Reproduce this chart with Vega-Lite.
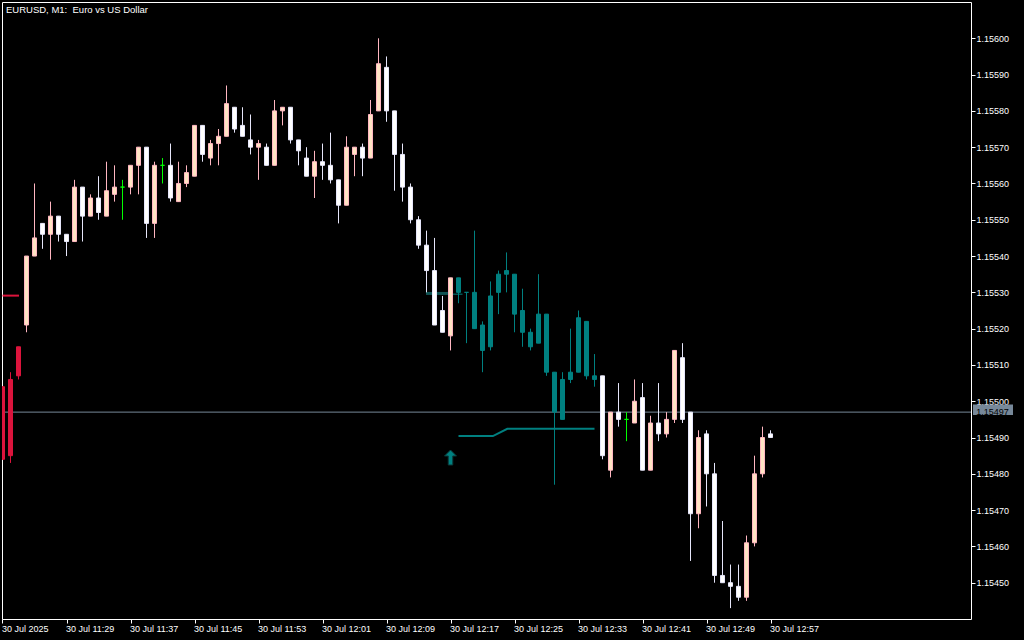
{
 "$schema": "https://vega.github.io/schema/vega-lite/v6.json",
 "width": 969,
 "height": 617,
 "autosize": {"type": "none"},
 "padding": {"left": 2, "top": 2, "right": 53, "bottom": 21},
 "background": "#000000",
 "config": {
  "view": {"stroke": "#FFFFFF", "strokeWidth": 1, "fill": "#000000"},
  "axis": {"labelFont": "Liberation Sans", "labelFontSize": 9, "labelColor": "#FFFFFF", "tickColor": "#FFFFFF", "tickSize": 4, "domain": false, "grid": false, "labelPadding": 1},
  "legend": {"disable": true}
 },
 "datasets": {
  "candles": [
   {"t":"2025-07-30T11:21:00Z","open":1.15504,"high":1.15504,"low":1.15484,"close":1.15484,"state":"red"},
   {"t":"2025-07-30T11:22:00Z","open":1.15485,"high":1.15508,"low":1.15483,"close":1.15506,"state":"red"},
   {"t":"2025-07-30T11:23:00Z","open":1.15507,"high":1.15515,"low":1.15506,"close":1.15515,"state":"red"},
   {"t":"2025-07-30T11:24:00Z","open":1.15521,"high":1.15540,"low":1.15519,"close":1.15540,"state":"up"},
   {"t":"2025-07-30T11:25:00Z","open":1.15540,"high":1.15560,"low":1.15540,"close":1.15545,"state":"up"},
   {"t":"2025-07-30T11:26:00Z","open":1.15549,"high":1.15549,"low":1.15542,"close":1.15546,"state":"down"},
   {"t":"2025-07-30T11:27:00Z","open":1.15546,"high":1.15555,"low":1.15539,"close":1.15551,"state":"up"},
   {"t":"2025-07-30T11:28:00Z","open":1.15551,"high":1.15551,"low":1.15544,"close":1.15546,"state":"down"},
   {"t":"2025-07-30T11:29:00Z","open":1.15546,"high":1.15546,"low":1.15540,"close":1.15544,"state":"down"},
   {"t":"2025-07-30T11:30:00Z","open":1.15544,"high":1.15561,"low":1.15544,"close":1.15559,"state":"up"},
   {"t":"2025-07-30T11:31:00Z","open":1.15559,"high":1.15559,"low":1.15544,"close":1.15551,"state":"down"},
   {"t":"2025-07-30T11:32:00Z","open":1.15551,"high":1.15557,"low":1.15551,"close":1.15556,"state":"up"},
   {"t":"2025-07-30T11:33:00Z","open":1.15556,"high":1.15562,"low":1.15550,"close":1.15552,"state":"down"},
   {"t":"2025-07-30T11:34:00Z","open":1.15551,"high":1.15566,"low":1.15551,"close":1.15558,"state":"up"},
   {"t":"2025-07-30T11:35:00Z","open":1.15557,"high":1.15565,"low":1.15555,"close":1.15559,"state":"up"},
   {"t":"2025-07-30T11:36:00Z","open":1.15559,"high":1.15561,"low":1.15550,"close":1.15559,"state":"doji"},
   {"t":"2025-07-30T11:37:00Z","open":1.15559,"high":1.15565,"low":1.15557,"close":1.15565,"state":"up"},
   {"t":"2025-07-30T11:38:00Z","open":1.15565,"high":1.15570,"low":1.15557,"close":1.15570,"state":"up"},
   {"t":"2025-07-30T11:39:00Z","open":1.15570,"high":1.15570,"low":1.15545,"close":1.15549,"state":"down"},
   {"t":"2025-07-30T11:40:00Z","open":1.15549,"high":1.15566,"low":1.15545,"close":1.15565,"state":"up"},
   {"t":"2025-07-30T11:41:00Z","open":1.15565,"high":1.15567,"low":1.15560,"close":1.15565,"state":"doji"},
   {"t":"2025-07-30T11:42:00Z","open":1.15565,"high":1.15571,"low":1.15555,"close":1.15556,"state":"down"},
   {"t":"2025-07-30T11:43:00Z","open":1.15555,"high":1.15566,"low":1.15555,"close":1.15560,"state":"up"},
   {"t":"2025-07-30T11:44:00Z","open":1.15560,"high":1.15565,"low":1.15559,"close":1.15563,"state":"up"},
   {"t":"2025-07-30T11:45:00Z","open":1.15562,"high":1.15576,"low":1.15562,"close":1.15576,"state":"up"},
   {"t":"2025-07-30T11:46:00Z","open":1.15576,"high":1.15576,"low":1.15566,"close":1.15568,"state":"down"},
   {"t":"2025-07-30T11:47:00Z","open":1.15567,"high":1.15572,"low":1.15565,"close":1.15571,"state":"up"},
   {"t":"2025-07-30T11:48:00Z","open":1.15571,"high":1.15575,"low":1.15565,"close":1.15573,"state":"up"},
   {"t":"2025-07-30T11:49:00Z","open":1.15573,"high":1.15587,"low":1.15573,"close":1.15582,"state":"up"},
   {"t":"2025-07-30T11:50:00Z","open":1.15581,"high":1.15581,"low":1.15574,"close":1.15575,"state":"down"},
   {"t":"2025-07-30T11:51:00Z","open":1.15576,"high":1.15581,"low":1.15573,"close":1.15573,"state":"down"},
   {"t":"2025-07-30T11:52:00Z","open":1.15572,"high":1.15579,"low":1.15568,"close":1.15570,"state":"down"},
   {"t":"2025-07-30T11:53:00Z","open":1.15570,"high":1.15572,"low":1.15561,"close":1.15571,"state":"up"},
   {"t":"2025-07-30T11:54:00Z","open":1.15570,"high":1.15571,"low":1.15565,"close":1.15565,"state":"down"},
   {"t":"2025-07-30T11:55:00Z","open":1.15565,"high":1.15583,"low":1.15565,"close":1.15580,"state":"up"},
   {"t":"2025-07-30T11:56:00Z","open":1.15580,"high":1.15581,"low":1.15576,"close":1.15581,"state":"up"},
   {"t":"2025-07-30T11:57:00Z","open":1.15581,"high":1.15581,"low":1.15571,"close":1.15572,"state":"down"},
   {"t":"2025-07-30T11:58:00Z","open":1.15572,"high":1.15572,"low":1.15565,"close":1.15569,"state":"down"},
   {"t":"2025-07-30T11:59:00Z","open":1.15567,"high":1.15570,"low":1.15562,"close":1.15562,"state":"down"},
   {"t":"2025-07-30T12:00:00Z","open":1.15562,"high":1.15569,"low":1.15556,"close":1.15566,"state":"up"},
   {"t":"2025-07-30T12:01:00Z","open":1.15566,"high":1.15571,"low":1.15561,"close":1.15565,"state":"down"},
   {"t":"2025-07-30T12:02:00Z","open":1.15565,"high":1.15574,"low":1.15560,"close":1.15561,"state":"down"},
   {"t":"2025-07-30T12:03:00Z","open":1.15561,"high":1.15561,"low":1.15549,"close":1.15554,"state":"down"},
   {"t":"2025-07-30T12:04:00Z","open":1.15554,"high":1.15573,"low":1.15554,"close":1.15570,"state":"up"},
   {"t":"2025-07-30T12:05:00Z","open":1.15568,"high":1.15570,"low":1.15562,"close":1.15570,"state":"up"},
   {"t":"2025-07-30T12:06:00Z","open":1.15570,"high":1.15571,"low":1.15562,"close":1.15567,"state":"down"},
   {"t":"2025-07-30T12:07:00Z","open":1.15567,"high":1.15583,"low":1.15567,"close":1.15579,"state":"up"},
   {"t":"2025-07-30T12:08:00Z","open":1.15580,"high":1.15600,"low":1.15580,"close":1.15593,"state":"up"},
   {"t":"2025-07-30T12:09:00Z","open":1.15592,"high":1.15595,"low":1.15577,"close":1.15580,"state":"down"},
   {"t":"2025-07-30T12:10:00Z","open":1.15580,"high":1.15580,"low":1.15558,"close":1.15568,"state":"down"},
   {"t":"2025-07-30T12:11:00Z","open":1.15568,"high":1.15571,"low":1.15555,"close":1.15559,"state":"down"},
   {"t":"2025-07-30T12:12:00Z","open":1.15559,"high":1.15560,"low":1.15549,"close":1.15550,"state":"down"},
   {"t":"2025-07-30T12:13:00Z","open":1.15550,"high":1.15551,"low":1.15542,"close":1.15543,"state":"down"},
   {"t":"2025-07-30T12:14:00Z","open":1.15543,"high":1.15547,"low":1.15530,"close":1.15536,"state":"down"},
   {"t":"2025-07-30T12:15:00Z","open":1.15536,"high":1.15545,"low":1.15521,"close":1.15521,"state":"down"},
   {"t":"2025-07-30T12:16:00Z","open":1.15525,"high":1.15529,"low":1.15519,"close":1.15519,"state":"down"},
   {"t":"2025-07-30T12:17:00Z","open":1.15518,"high":1.15534,"low":1.15514,"close":1.15534,"state":"up"},
   {"t":"2025-07-30T12:18:00Z","open":1.15534,"high":1.15534,"low":1.15527,"close":1.15530,"state":"teal"},
   {"t":"2025-07-30T12:19:00Z","open":1.15530,"high":1.15530,"low":1.15516,"close":1.15530,"state":"teal"},
   {"t":"2025-07-30T12:20:00Z","open":1.15530,"high":1.15547,"low":1.15520,"close":1.15520,"state":"teal"},
   {"t":"2025-07-30T12:21:00Z","open":1.15521,"high":1.15522,"low":1.15508,"close":1.15514,"state":"teal"},
   {"t":"2025-07-30T12:22:00Z","open":1.15515,"high":1.15533,"low":1.15514,"close":1.15529,"state":"teal"},
   {"t":"2025-07-30T12:23:00Z","open":1.15530,"high":1.15536,"low":1.15524,"close":1.15535,"state":"teal"},
   {"t":"2025-07-30T12:24:00Z","open":1.15535,"high":1.15541,"low":1.15530,"close":1.15536,"state":"teal"},
   {"t":"2025-07-30T12:25:00Z","open":1.15535,"high":1.15535,"low":1.15519,"close":1.15524,"state":"teal"},
   {"t":"2025-07-30T12:26:00Z","open":1.15525,"high":1.15531,"low":1.15515,"close":1.15519,"state":"teal"},
   {"t":"2025-07-30T12:27:00Z","open":1.15519,"high":1.15520,"low":1.15514,"close":1.15515,"state":"teal"},
   {"t":"2025-07-30T12:28:00Z","open":1.15516,"high":1.15535,"low":1.15516,"close":1.15524,"state":"teal"},
   {"t":"2025-07-30T12:29:00Z","open":1.15524,"high":1.15524,"low":1.15507,"close":1.15508,"state":"teal"},
   {"t":"2025-07-30T12:30:00Z","open":1.15508,"high":1.15508,"low":1.15477,"close":1.15497,"state":"teal"},
   {"t":"2025-07-30T12:31:00Z","open":1.15495,"high":1.15508,"low":1.15495,"close":1.15506,"state":"teal"},
   {"t":"2025-07-30T12:32:00Z","open":1.15506,"high":1.15520,"low":1.15505,"close":1.15508,"state":"teal"},
   {"t":"2025-07-30T12:33:00Z","open":1.15508,"high":1.15525,"low":1.15508,"close":1.15523,"state":"teal"},
   {"t":"2025-07-30T12:34:00Z","open":1.15522,"high":1.15522,"low":1.15506,"close":1.15507,"state":"teal"},
   {"t":"2025-07-30T12:35:00Z","open":1.15507,"high":1.15513,"low":1.15504,"close":1.15506,"state":"teal"},
   {"t":"2025-07-30T12:36:00Z","open":1.15507,"high":1.15507,"low":1.15484,"close":1.15485,"state":"down"},
   {"t":"2025-07-30T12:37:00Z","open":1.15481,"high":1.15497,"low":1.15479,"close":1.15497,"state":"up"},
   {"t":"2025-07-30T12:38:00Z","open":1.15497,"high":1.15505,"low":1.15493,"close":1.15495,"state":"down"},
   {"t":"2025-07-30T12:39:00Z","open":1.15495,"high":1.15497,"low":1.15489,"close":1.15495,"state":"doji"},
   {"t":"2025-07-30T12:40:00Z","open":1.15494,"high":1.15506,"low":1.15494,"close":1.15500,"state":"up"},
   {"t":"2025-07-30T12:41:00Z","open":1.15501,"high":1.15505,"low":1.15481,"close":1.15481,"state":"down"},
   {"t":"2025-07-30T12:42:00Z","open":1.15481,"high":1.15496,"low":1.15481,"close":1.15494,"state":"up"},
   {"t":"2025-07-30T12:43:00Z","open":1.15494,"high":1.15505,"low":1.15489,"close":1.15491,"state":"down"},
   {"t":"2025-07-30T12:44:00Z","open":1.15491,"high":1.15497,"low":1.15490,"close":1.15495,"state":"up"},
   {"t":"2025-07-30T12:45:00Z","open":1.15495,"high":1.15514,"low":1.15494,"close":1.15514,"state":"up"},
   {"t":"2025-07-30T12:46:00Z","open":1.15512,"high":1.15516,"low":1.15494,"close":1.15495,"state":"down"},
   {"t":"2025-07-30T12:47:00Z","open":1.15497,"high":1.15497,"low":1.15456,"close":1.15469,"state":"down"},
   {"t":"2025-07-30T12:48:00Z","open":1.15469,"high":1.15492,"low":1.15465,"close":1.15490,"state":"up"},
   {"t":"2025-07-30T12:49:00Z","open":1.15491,"high":1.15492,"low":1.15471,"close":1.15480,"state":"down"},
   {"t":"2025-07-30T12:50:00Z","open":1.15480,"high":1.15483,"low":1.15450,"close":1.15452,"state":"down"},
   {"t":"2025-07-30T12:51:00Z","open":1.15452,"high":1.15467,"low":1.15450,"close":1.15450,"state":"down"},
   {"t":"2025-07-30T12:52:00Z","open":1.15450,"high":1.15455,"low":1.15443,"close":1.15449,"state":"down"},
   {"t":"2025-07-30T12:53:00Z","open":1.15449,"high":1.15455,"low":1.15445,"close":1.15446,"state":"down"},
   {"t":"2025-07-30T12:54:00Z","open":1.15446,"high":1.15463,"low":1.15445,"close":1.15461,"state":"up"},
   {"t":"2025-07-30T12:55:00Z","open":1.15461,"high":1.15485,"low":1.15460,"close":1.15480,"state":"up"},
   {"t":"2025-07-30T12:56:00Z","open":1.15480,"high":1.15493,"low":1.15479,"close":1.15490,"state":"up"},
   {"t":"2025-07-30T12:57:00Z","open":1.15491,"high":1.15492,"low":1.15490,"close":1.15490,"state":"down"}
  ],
  "lines": [
   {"t":"2025-07-30T11:21:00Z","p":1.155291,"k":"stop"},
   {"t":"2025-07-30T11:23:04Z","p":1.155291,"k":"stop"},
   {"t":"2025-07-30T12:13:56Z","p":1.155297,"k":"level"},
   {"t":"2025-07-30T12:16:41Z","p":1.155297,"k":"level"},
   {"t":"2025-07-30T12:16:56Z","p":1.155295,"k":"level2"},
   {"t":"2025-07-30T12:18:30Z","p":1.155295,"k":"level2"},
   {"t":"2025-07-30T12:18:00Z","p":1.154904,"k":"trail"},
   {"t":"2025-07-30T12:22:18Z","p":1.154904,"k":"trail"},
   {"t":"2025-07-30T12:24:06Z","p":1.154924,"k":"trail"},
   {"t":"2025-07-30T12:35:00Z","p":1.154924,"k":"trail"}
  ],
  "signals": [
   {"t":"2025-07-30T12:17:00Z","p":1.154845,"kind":"buy"}
  ],
  "bid": [
   {"p":1.15497,"label":"1.15497"}
  ]
 },
 "layer": [
  {
   "data": {"name": "bid"},
   "mark": {"type": "rule", "color": "#778899", "strokeWidth": 1},
   "encoding": {
    "y": {"field": "p", "type": "quantitative", "scale": {"domain": [1.1544, 1.1561], "nice": false, "zero": false}}
   }
  },
  {
   "data": {"name": "lines"},
   "transform": [{"filter": "datum.k == 'stop'"}],
   "mark": {"type": "line", "color": "#DC143C", "strokeWidth": 2},
   "encoding": {
    "x": {"field": "t", "type": "temporal", "scale": {"type": "utc", "domain": [{"year":2025,"month":7,"date":30,"hours":11,"minutes":20,"seconds":56,"milliseconds":250,"utc":true},{"year":2025,"month":7,"date":30,"hours":13,"minutes":22,"seconds":3,"milliseconds":750,"utc":true}], "nice": false, "padding": 0}},
    "y": {"field": "p", "type": "quantitative", "scale": {"domain": [1.1544, 1.1561], "nice": false, "zero": false}}
   }
  },
  {
   "data": {"name": "lines"},
   "transform": [{"filter": "datum.k == 'level'"}],
   "mark": {"type": "line", "color": "#0F5252", "strokeWidth": 3},
   "encoding": {
    "x": {"field": "t", "type": "temporal", "scale": {"type": "utc", "domain": [{"year":2025,"month":7,"date":30,"hours":11,"minutes":20,"seconds":56,"milliseconds":250,"utc":true},{"year":2025,"month":7,"date":30,"hours":13,"minutes":22,"seconds":3,"milliseconds":750,"utc":true}], "nice": false, "padding": 0}},
    "y": {"field": "p", "type": "quantitative", "scale": {"domain": [1.1544, 1.1561], "nice": false, "zero": false}}
   }
  },
  {
   "data": {"name": "lines"},
   "transform": [{"filter": "datum.k == 'level2'"}],
   "mark": {"type": "line", "color": "#008080", "strokeWidth": 1},
   "encoding": {
    "x": {"field": "t", "type": "temporal", "scale": {"type": "utc", "domain": [{"year":2025,"month":7,"date":30,"hours":11,"minutes":20,"seconds":56,"milliseconds":250,"utc":true},{"year":2025,"month":7,"date":30,"hours":13,"minutes":22,"seconds":3,"milliseconds":750,"utc":true}], "nice": false, "padding": 0}},
    "y": {"field": "p", "type": "quantitative", "scale": {"domain": [1.1544, 1.1561], "nice": false, "zero": false}}
   }
  },
  {
   "data": {"name": "lines"},
   "transform": [{"filter": "datum.k == 'trail'"}],
   "mark": {"type": "line", "color": "#008080", "strokeWidth": 2},
   "encoding": {
    "x": {"field": "t", "type": "temporal", "scale": {"type": "utc", "domain": [{"year":2025,"month":7,"date":30,"hours":11,"minutes":20,"seconds":56,"milliseconds":250,"utc":true},{"year":2025,"month":7,"date":30,"hours":13,"minutes":22,"seconds":3,"milliseconds":750,"utc":true}], "nice": false, "padding": 0}},
    "y": {"field": "p", "type": "quantitative", "scale": {"domain": [1.1544, 1.1561], "nice": false, "zero": false}}
   }
  },
  {
   "data": {"name": "candles"},
   "mark": {"type": "rule", "strokeWidth": 1, "clip": true},
   "encoding": {
    "x": {"field": "t", "type": "temporal", "scale": {"type": "utc", "domain": [{"year":2025,"month":7,"date":30,"hours":11,"minutes":20,"seconds":56,"milliseconds":250,"utc":true},{"year":2025,"month":7,"date":30,"hours":13,"minutes":22,"seconds":3,"milliseconds":750,"utc":true}], "nice": false, "padding": 0},
     "axis": {"orient": "bottom", "title": null, "labelAlign": "left", "labelBaseline": "top", "labelFlush": false, "labelOverlap": false, "labelBound": false, "labelOffset": -1,
      "values": [
       {"year":2025,"month":7,"date":30,"hours":11,"minutes":21,"utc":true},
       {"year":2025,"month":7,"date":30,"hours":11,"minutes":29,"utc":true},
       {"year":2025,"month":7,"date":30,"hours":11,"minutes":37,"utc":true},
       {"year":2025,"month":7,"date":30,"hours":11,"minutes":45,"utc":true},
       {"year":2025,"month":7,"date":30,"hours":11,"minutes":53,"utc":true},
       {"year":2025,"month":7,"date":30,"hours":12,"minutes":1,"utc":true},
       {"year":2025,"month":7,"date":30,"hours":12,"minutes":9,"utc":true},
       {"year":2025,"month":7,"date":30,"hours":12,"minutes":17,"utc":true},
       {"year":2025,"month":7,"date":30,"hours":12,"minutes":25,"utc":true},
       {"year":2025,"month":7,"date":30,"hours":12,"minutes":33,"utc":true},
       {"year":2025,"month":7,"date":30,"hours":12,"minutes":41,"utc":true},
       {"year":2025,"month":7,"date":30,"hours":12,"minutes":49,"utc":true},
       {"year":2025,"month":7,"date":30,"hours":12,"minutes":57,"utc":true}
      ],
      "labelExpr": "utcFormat(datum.value, '%H:%M') == '11:21' ? '30 Jul 2025' : utcFormat(datum.value, '%d %b %H:%M')"}},
    "y": {"field": "low", "type": "quantitative", "scale": {"domain": [1.1544, 1.1561], "nice": false, "zero": false},
     "axis": {"orient": "right", "title": null, "format": ".5f", "labelAlign": "left", "labelBaseline": "middle",
      "values": [1.1545, 1.1546, 1.1547, 1.1548, 1.1549, 1.155, 1.1551, 1.1552, 1.1553, 1.1554, 1.1555, 1.1556, 1.1557, 1.1558, 1.1559, 1.156]}},
    "y2": {"field": "high"},
    "stroke": {"field": "state", "type": "nominal", "scale": {"domain": ["up", "down", "doji", "teal", "red"], "range": ["#FFB6C1", "#E6E6FA", "#00FF00", "#008080", "#DC143C"]}, "legend": null}
   }
  },
  {
   "data": {"name": "candles"},
   "mark": {"type": "bar", "size": 4, "strokeWidth": 1, "clip": true},
   "encoding": {
    "x": {"field": "t", "type": "temporal", "scale": {"type": "utc", "domain": [{"year":2025,"month":7,"date":30,"hours":11,"minutes":20,"seconds":56,"milliseconds":250,"utc":true},{"year":2025,"month":7,"date":30,"hours":13,"minutes":22,"seconds":3,"milliseconds":750,"utc":true}], "nice": false, "padding": 0}},
    "y": {"field": "open", "type": "quantitative", "scale": {"domain": [1.1544, 1.1561], "nice": false, "zero": false}},
    "y2": {"field": "close"},
    "fill": {"field": "state", "type": "nominal", "scale": {"domain": ["up", "down", "doji", "teal", "red"], "range": ["#FFE4C4", "#FFFFFF", "#00FF00", "#008080", "#DC143C"]}, "legend": null},
    "stroke": {"field": "state", "type": "nominal", "legend": null}
   }
  },
  {
   "data": {"name": "signals"},
   "mark": {"type": "point", "filled": true, "shape": "M0,-1 L0.8,-0.2 L0.3,-0.2 L0.3,1 L-0.3,1 L-0.3,-0.2 L-0.8,-0.2 Z", "size": 225, "fill": "#008080", "stroke": "#0A3A3A", "strokeWidth": 1, "opacity": 1},
   "encoding": {
    "x": {"field": "t", "type": "temporal", "scale": {"type": "utc", "domain": [{"year":2025,"month":7,"date":30,"hours":11,"minutes":20,"seconds":56,"milliseconds":250,"utc":true},{"year":2025,"month":7,"date":30,"hours":13,"minutes":22,"seconds":3,"milliseconds":750,"utc":true}], "nice": false, "padding": 0}},
    "y": {"field": "p", "type": "quantitative", "scale": {"domain": [1.1544, 1.1561], "nice": false, "zero": false}}
   }
  },
  {
   "data": {"name": "bid"},
   "mark": {"type": "rect", "color": "#778899"},
   "encoding": {
    "x": {"datum": {"year":2025,"month":7,"date":30,"hours":13,"minutes":22,"seconds":18,"milliseconds":750,"utc":true}, "type": "temporal", "scale": {"type": "utc", "domain": [{"year":2025,"month":7,"date":30,"hours":11,"minutes":20,"seconds":56,"milliseconds":250,"utc":true},{"year":2025,"month":7,"date":30,"hours":13,"minutes":22,"seconds":3,"milliseconds":750,"utc":true}], "nice": false, "padding": 0}},
    "x2": {"datum": {"year":2025,"month":7,"date":30,"hours":13,"minutes":27,"seconds":18,"milliseconds":750,"utc":true}},
    "y": {"datum": 1.154991, "type": "quantitative", "scale": {"domain": [1.1544, 1.1561], "nice": false, "zero": false}},
    "y2": {"datum": 1.154962}
   }
  },
  {
   "data": {"name": "bid"},
   "mark": {"type": "text", "color": "#000000", "font": "Liberation Sans", "fontSize": 9, "align": "center", "baseline": "middle"},
   "encoding": {
    "x": {"datum": {"year":2025,"month":7,"date":30,"hours":13,"minutes":24,"seconds":45,"utc":true}, "type": "temporal", "scale": {"type": "utc", "domain": [{"year":2025,"month":7,"date":30,"hours":11,"minutes":20,"seconds":56,"milliseconds":250,"utc":true},{"year":2025,"month":7,"date":30,"hours":13,"minutes":22,"seconds":3,"milliseconds":750,"utc":true}], "nice": false, "padding": 0}},
    "y": {"field": "p", "type": "quantitative", "scale": {"domain": [1.1544, 1.1561], "nice": false, "zero": false}},
    "text": {"field": "label"}
   }
  },
  {
   "data": {"name": "bid"},
   "mark": {"type": "text", "color": "#FFFFFF", "font": "Liberation Sans", "fontSize": 9.5, "align": "left", "baseline": "top", "dx": 4, "dy": 3},
   "encoding": {
    "x": {"datum": {"year":2025,"month":7,"date":30,"hours":11,"minutes":20,"seconds":56,"milliseconds":250,"utc":true}, "type": "temporal", "scale": {"type": "utc", "domain": [{"year":2025,"month":7,"date":30,"hours":11,"minutes":20,"seconds":56,"milliseconds":250,"utc":true},{"year":2025,"month":7,"date":30,"hours":13,"minutes":22,"seconds":3,"milliseconds":750,"utc":true}], "nice": false, "padding": 0}},
    "y": {"datum": 1.1561, "type": "quantitative", "scale": {"domain": [1.1544, 1.1561], "nice": false, "zero": false}},
    "text": {"value": "EURUSD, M1:\u00a0 Euro vs US Dollar"}
   }
  }
 ]
}
